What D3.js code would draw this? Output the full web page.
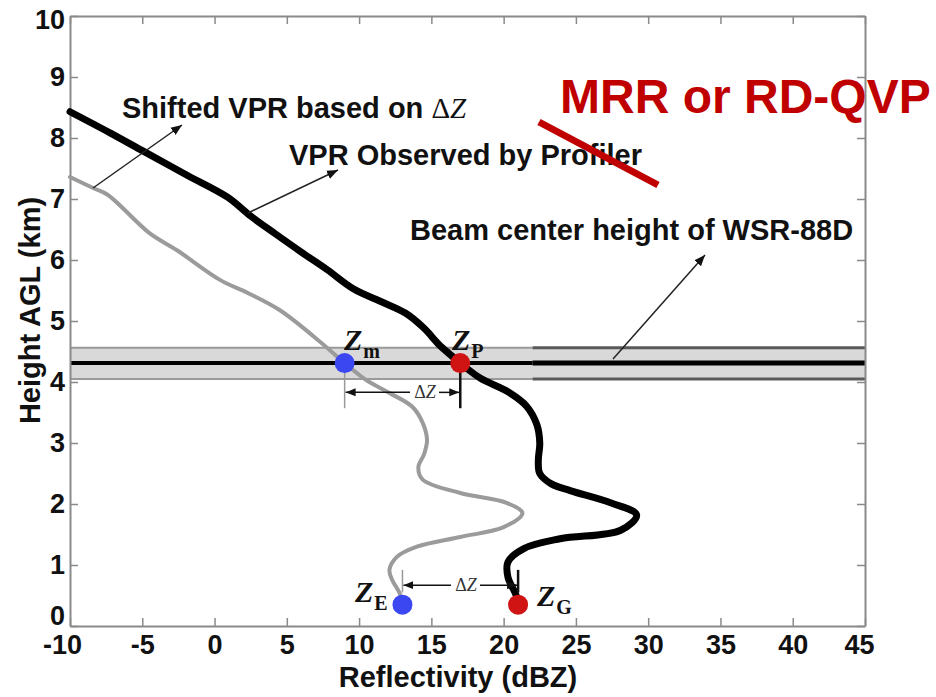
<!DOCTYPE html>
<html>
<head>
<meta charset="utf-8">
<script src="https://cdn.jsdelivr.net/npm/d3@7"></script>
<style>
  html, body { margin: 0; padding: 0; background: #fff; }
  svg { display: block; }
  .sans { font-family: "Liberation Sans", Arial, sans-serif; font-weight: bold; }
  .serif { font-family: "Liberation Serif", "Times New Roman", serif; }
</style>
</head>
<body>
<svg id="chart" width="936" height="697"></svg>
<script>
// ---- data ----
const xTicks = [-10, -5, 0, 5, 10, 15, 20, 25, 30, 35, 40, 45];
const yTicks = [0, 1, 2, 3, 4, 5, 6, 7, 8, 9, 10];

// VPR observed by the profiler (reflectivity dBZ, height km)
const observedZ = [-10, -7.2, -4.9, -1.9, 0.9, 2.5, 4.2, 6.0, 7.8, 9.6, 11.5, 13.2, 14.5, 15.5, 16.3, 17.0, 18.4, 20.3, 21.6, 22.3, 22.5, 22.4, 22.5, 23.3, 24.6, 27.4, 29.2, 28.1, 23.9, 21.4, 20.3, 20.3, 20.8, 21.1];
const observedH = [8.43, 8.08, 7.78, 7.39, 7.03, 6.72, 6.43, 6.13, 5.84, 5.53, 5.32, 5.13, 4.88, 4.62, 4.45, 4.31, 4.06, 3.84, 3.60, 3.30, 3.00, 2.72, 2.50, 2.33, 2.22, 2.02, 1.82, 1.57, 1.43, 1.27, 1.05, 0.80, 0.54, 0.34];

// VPR shifted by delta Z
const shiftedZ = [-10, -8.4, -7.4, -4.5, -2.6, 0.4, 2.3, 4.5, 7.5, 9.0, 10.5, 12.1, 13.7, 14.4, 14.7, 14.5, 14.1, 14.4, 17.0, 20.2, 21.3, 20.0, 17.0, 14.0, 12.6, 12.1, 12.3, 12.8, 13.0];
const shiftedH = [7.36, 7.18, 7.07, 6.44, 6.16, 5.67, 5.46, 5.18, 4.62, 4.31, 4.03, 3.82, 3.59, 3.33, 3.05, 2.82, 2.60, 2.40, 2.18, 2.02, 1.85, 1.62, 1.46, 1.30, 1.13, 0.92, 0.75, 0.54, 0.34];

// Radar beam: bottom, centre, top (km) and where the darker right segment begins (dBZ)
const beamBottom = 4.05, beamCenter = 4.31, beamTop = 4.56, beamSplit = 22;

// Marked reflectivity points
const pointNames = ["m", "P", "E", "G"];
const pointZ = [9, 17, 13, 21];
const pointH = [4.31, 4.31, 0.35, 0.35];
const pointColor = ["#3b48f2", "#d01414", "#3b48f2", "#d01414"];

// ---- layout ----
const svg = d3.select("#chart");
const plotLeft = 70, plotRight = 865, plotTop = 16, plotBottom = 626;
const x = d3.scaleLinear().domain([-10, 45]).range([plotLeft, plotRight]);
const y = d3.scaleLinear().domain([0, 10]).range([plotBottom, plotTop]);

const defs = svg.append("defs");
function marker(id, size) {
  defs.append("marker").attr("id", id)
    .attr("viewBox", "0 -5 10 10").attr("refX", 10).attr("refY", 0)
    .attr("markerWidth", size).attr("markerHeight", size)
    .attr("markerUnits", "userSpaceOnUse").attr("orient", "auto")
    .append("path").attr("d", "M0,-4L10,0L0,4Z").attr("fill", "#111");
}
marker("head", 11);
marker("headSmall", 10);

// beam band
const band = svg.append("g");
band.append("rect")
  .attr("x", x(-10)).attr("width", x(45) - x(-10))
  .attr("y", y(beamTop)).attr("height", y(beamBottom) - y(beamTop))
  .attr("fill", "#d9d9d9");
const segs = [[-10, beamSplit, "#9a9a9a", 2, 4], [beamSplit, 45, "#5a5a5a", 3, 5]];
segs.forEach(([a, b, edge, ew, cw]) => {
  [beamTop, beamBottom].forEach(h => {
    band.append("line").attr("x1", x(a)).attr("x2", x(b))
      .attr("y1", y(h)).attr("y2", y(h))
      .attr("stroke", edge).attr("stroke-width", ew);
  });
  band.append("line").attr("x1", x(a)).attr("x2", x(b))
    .attr("y1", y(beamCenter)).attr("y2", y(beamCenter))
    .attr("stroke", "#000").attr("stroke-width", cw);
});

// axes (ticks pointing inward, boxed frame)
const axisColor = "#8a8a8a";
const plainFormat = d => String(d);
function styleAxis(g) {
  g.select(".domain").attr("stroke", axisColor).attr("stroke-width", 2);
  g.selectAll(".tick line").attr("stroke", axisColor).attr("stroke-width", 1.5);
}
const gx = svg.append("g").attr("transform", `translate(0,${plotBottom})`)
  .call(d3.axisBottom(x).tickValues(xTicks).tickFormat(plainFormat)
    .tickSize(-8).tickSizeOuter(0).tickPadding(9))
  .call(styleAxis);
gx.selectAll("text").attr("class", "sans").attr("font-size", 27).attr("fill", "#111")
  .attr("dx", d => d === -10 ? -8 : d === 45 ? -6 : 0);

const gy = svg.append("g").attr("transform", `translate(${plotLeft},0)`)
  .call(d3.axisLeft(y).tickValues(yTicks).tickFormat(plainFormat)
    .tickSize(-8).tickSizeOuter(0).tickPadding(5))
  .call(styleAxis);
gy.selectAll("text").attr("class", "sans").attr("font-size", 27).attr("fill", "#111")
  .attr("transform", d => d === 10 ? "translate(0,4)" : d === 0 ? "translate(0,-10)" : null);

svg.append("g").attr("transform", `translate(0,${plotTop})`)
  .call(d3.axisTop(x).tickValues(xTicks).tickSize(-8).tickSizeOuter(0).tickFormat(""))
  .call(styleAxis);
svg.append("g").attr("transform", `translate(${plotRight},0)`)
  .call(d3.axisRight(y).tickValues(yTicks).tickSize(-8).tickSizeOuter(0).tickFormat(""))
  .call(styleAxis);

// axis titles
svg.append("text").attr("class", "sans").attr("font-size", 29).attr("fill", "#111")
  .attr("x", 458).attr("y", 687).attr("text-anchor", "middle")
  .text("Reflectivity (dBZ)");
svg.append("text").attr("class", "sans").attr("font-size", 29).attr("fill", "#111")
  .attr("transform", `translate(40,${(193 + 428) / 2}) rotate(-90)`)
  .attr("text-anchor", "middle")
  .text("Height AGL (km)");

// profiles
const line = d3.line().x(d => x(d[0])).y(d => y(d[1])).curve(d3.curveCatmullRom.alpha(0.5));
svg.append("path").datum(d3.zip(shiftedZ, shiftedH)).attr("d", line)
  .attr("fill", "none").attr("stroke", "#9b9b9b").attr("stroke-width", 4)
  .attr("stroke-linejoin", "round").attr("stroke-linecap", "round");
svg.append("path").datum(d3.zip(observedZ, observedH)).attr("d", line)
  .attr("fill", "none").attr("stroke", "#000").attr("stroke-width", 7)
  .attr("stroke-linejoin", "round").attr("stroke-linecap", "round");

// delta-Z brackets between the profiles
function deltaBracket(zLeft, zRight, hArrow, hTop, hBot, textX) {
  const g = svg.append("g");
  g.append("line").attr("x1", x(zLeft)).attr("x2", x(zLeft))
    .attr("y1", y(hTop)).attr("y2", y(hBot)).attr("stroke", "#999").attr("stroke-width", 1.5);
  g.append("line").attr("x1", x(zRight)).attr("x2", x(zRight))
    .attr("y1", y(hTop)).attr("y2", y(hBot)).attr("stroke", "#111").attr("stroke-width", 2.5);
  const ya = y(hArrow);
  const t = g.append("text").attr("class", "serif").attr("font-size", 18).attr("fill", "#333")
    .attr("x", textX).attr("y", ya + 6).attr("text-anchor", "middle");
  t.append("tspan").text("Δ");
  t.append("tspan").attr("font-style", "italic").text("Z");
  g.append("line").attr("x1", textX - 15).attr("x2", x(zLeft) + 1)
    .attr("y1", ya).attr("y2", ya).attr("stroke", "#111").attr("stroke-width", 1.5)
    .attr("marker-end", "url(#headSmall)");
  g.append("line").attr("x1", textX + 14).attr("x2", x(zRight) - 1)
    .attr("y1", ya).attr("y2", ya).attr("stroke", "#111").attr("stroke-width", 1.5)
    .attr("marker-end", "url(#headSmall)");
}
deltaBracket(pointZ[0], pointZ[1], 3.83, 4.31, 3.57, 425);
deltaBracket(pointZ[2], pointZ[3], 0.67, 0.92, 0.55, 466);

// marked points
svg.append("g").selectAll("circle")
  .data(d3.range(pointZ.length)).join("circle")
  .attr("cx", i => x(pointZ[i])).attr("cy", i => y(pointH[i]))
  .attr("r", 10).attr("fill", i => pointColor[i]);

// point labels: Z with subscript
const labelPos = [[344, 350], [452, 350], [355, 602], [537, 606]];
labelPos.forEach(([lx, ly], i) => {
  const t = svg.append("text").attr("class", "serif").attr("x", lx).attr("y", ly)
    .attr("font-weight", "bold").attr("fill", "#111");
  t.append("tspan").attr("font-size", 30).attr("font-style", "italic").text("Z");
  t.append("tspan").attr("font-size", 20).attr("dy", 8).attr("dx", 1).text(pointNames[i]);
});

// annotations with arrows
function note(textX, textY, label, fromX, fromY, toX, toY) {
  svg.append("line").attr("x1", fromX).attr("y1", fromY).attr("x2", toX).attr("y2", toY)
    .attr("stroke", "#222").attr("stroke-width", 1.5).attr("marker-end", "url(#head)");
  return svg.append("text").attr("class", "sans").attr("font-size", 29).attr("fill", "#111")
    .attr("x", textX).attr("y", textY).text(label);
}
const shiftedNote = note(122, 118, "Shifted VPR based on ", 93, 188, 182, 125);
shiftedNote.append("tspan").attr("class", "serif").attr("font-weight", "normal").attr("font-size", 29).text("Δ");
shiftedNote.append("tspan").attr("class", "serif").attr("font-weight", "normal").attr("font-style", "italic").attr("font-size", 29).text("Z");
note(289, 165, "VPR Observed by Profiler", 248, 213, 338, 170);
note(410, 240, "Beam center height of WSR-88D", 613, 359, 705, 255);

// red relabelling
svg.append("line").attr("x1", 539).attr("y1", 122).attr("x2", 658).attr("y2", 185)
  .attr("stroke", "#c00000").attr("stroke-width", 7);
svg.append("text").attr("class", "sans").attr("font-size", 48).attr("fill", "#c00000")
  .attr("x", 560).attr("y", 113).text("MRR or RD-QVP");
</script>
</body>
</html>
